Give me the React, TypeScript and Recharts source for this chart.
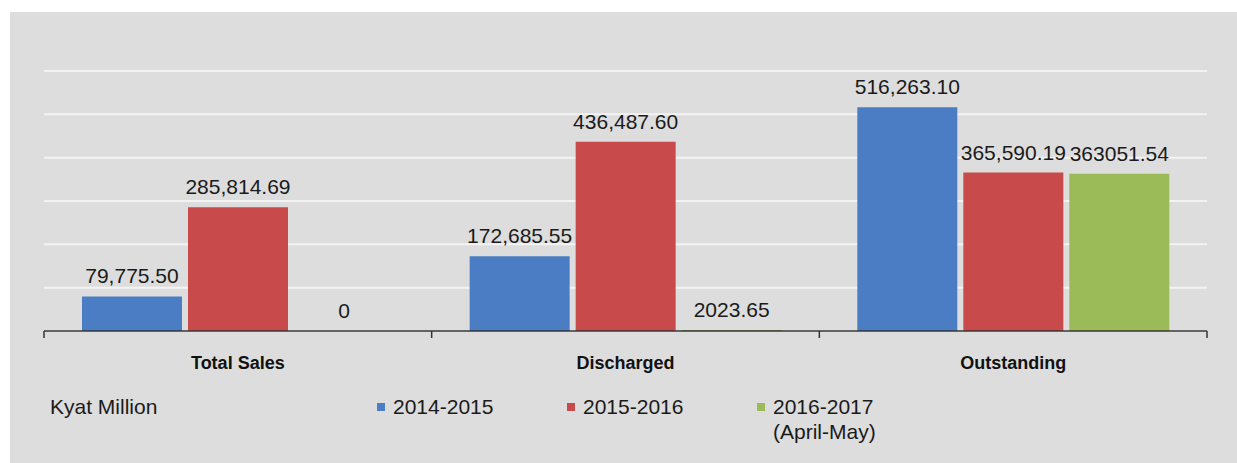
import { BarChart, Bar, XAxis, YAxis, CartesianGrid, LabelList } from 'recharts';

const CATEGORIES = ['Total Sales', 'Discharged', 'Outstanding'];
const FY_2014_2015 = [79775.5, 172685.55, 516263.1];
const FY_2015_2016 = [285814.69, 436487.6, 365590.19];
const FY_2016_2017 = [0, 2023.65, 363051.54];
const Y_TICKS = [0, 100000, 200000, 300000, 400000, 500000, 600000];
const UNIT_LABEL = 'Kyat Million';

const SERIES = [
  { key: 'fy1415', name: '2014-2015', sub: '', color: '#4a7dc4', values: FY_2014_2015 },
  { key: 'fy1516', name: '2015-2016', sub: '', color: '#c84a4a', values: FY_2015_2016 },
  { key: 'fy1617', name: '2016-2017', sub: '(April-May)', color: '#9abb57', values: FY_2016_2017 },
];

const W = 1237;
const H = 463;
const MARGIN = { top: 71, right: 30, bottom: 92, left: 44 };
const HALF_BAND = (W - MARGIN.left - MARGIN.right) / CATEGORIES.length / 2;
const FONT = '"Liberation Sans", Arial, sans-serif';

const chartData = CATEGORIES.map((name, i) => {
  const row: Record<string, string | number> = { name };
  SERIES.forEach((s) => {
    row[s.key] = s.values[i];
  });
  return row;
});

const withCommas = (v: number) =>
  v.toLocaleString('en-US', { minimumFractionDigits: 2, maximumFractionDigits: 2 });
// the last series is printed without grouping in the source
const plain = (v: number) => (v === 0 ? '0' : v.toFixed(2));

const CategoryTick = (props: any) => {
  const { x, y, payload, index } = props;
  const last = index === CATEGORIES.length - 1;
  return (
    <g>
      <line x1={x - HALF_BAND} x2={x - HALF_BAND} y1={y - 8} y2={y - 1} stroke="#333" strokeWidth={1.5} />
      {last && <line x1={x + HALF_BAND} x2={x + HALF_BAND} y1={y - 8} y2={y - 1} stroke="#333" strokeWidth={1.5} />}
      <text x={x} y={y + 30} textAnchor="middle" fontFamily={FONT} fontSize={18} fontWeight="bold" fill="#111">
        {payload.value}
      </text>
    </g>
  );
};

const makeLabel = (fmt: (v: number) => string) => (props: any) => {
  const { x, y, width, value } = props;
  return (
    <text x={x + width / 2} y={y - 13} textAnchor="middle" fontFamily={FONT} fontSize={21} fill="#1a1a1a">
      {fmt(Number(value))}
    </text>
  );
};

const App = () => {
  return (
    <div style={{ position: 'absolute', left: 0, top: 0, width: W, height: H, background: '#fff', fontFamily: FONT }}>
      <div style={{ position: 'absolute', left: 10, top: 12, right: 0, bottom: 0, background: '#dddddd' }} />
      <div style={{ position: 'absolute', left: 0, top: 0 }}>
        <BarChart width={W} height={H} data={chartData} margin={MARGIN} barCategoryGap="9.8%" barGap={6}>
          <CartesianGrid vertical={false} stroke="#f3f3f3" strokeWidth={2} />
          <YAxis hide domain={[0, 600000]} ticks={Y_TICKS} />
          <XAxis
            dataKey="name"
            height={40}
            axisLine={{ stroke: '#333', strokeWidth: 1.5 }}
            tickLine={false}
            tick={<CategoryTick />}
            interval={0}
          />
          {SERIES.map((s, i) => (
            <Bar
              key={s.key}
              dataKey={s.key}
              fill={s.color}
              minPointSize={(v: any) => (v === 0 ? 0.1 : 0)}
              isAnimationActive={false}
            >
              <LabelList dataKey={s.key} content={makeLabel(i === SERIES.length - 1 ? plain : withCommas)} />
            </Bar>
          ))}
        </BarChart>
      </div>
      <div style={{ position: 'absolute', left: 50, top: 394, fontSize: 21, lineHeight: '25px', color: '#1a1a1a' }}>
        {UNIT_LABEL}
      </div>
      <div style={{ position: 'absolute', left: 377, top: 394, display: 'flex', fontSize: 21, lineHeight: '25px', color: '#1a1a1a' }}>
        {SERIES.map((s) => (
          <div key={s.key} style={{ width: 190, display: 'flex', alignItems: 'flex-start' }}>
            <span style={{ width: 8, height: 8, background: s.color, marginTop: 9, marginRight: 8, flexShrink: 0 }} />
            <span>
              {s.name}
              {s.sub && <br />}
              {s.sub}
            </span>
          </div>
        ))}
      </div>
    </div>
  );
};

export default App;
